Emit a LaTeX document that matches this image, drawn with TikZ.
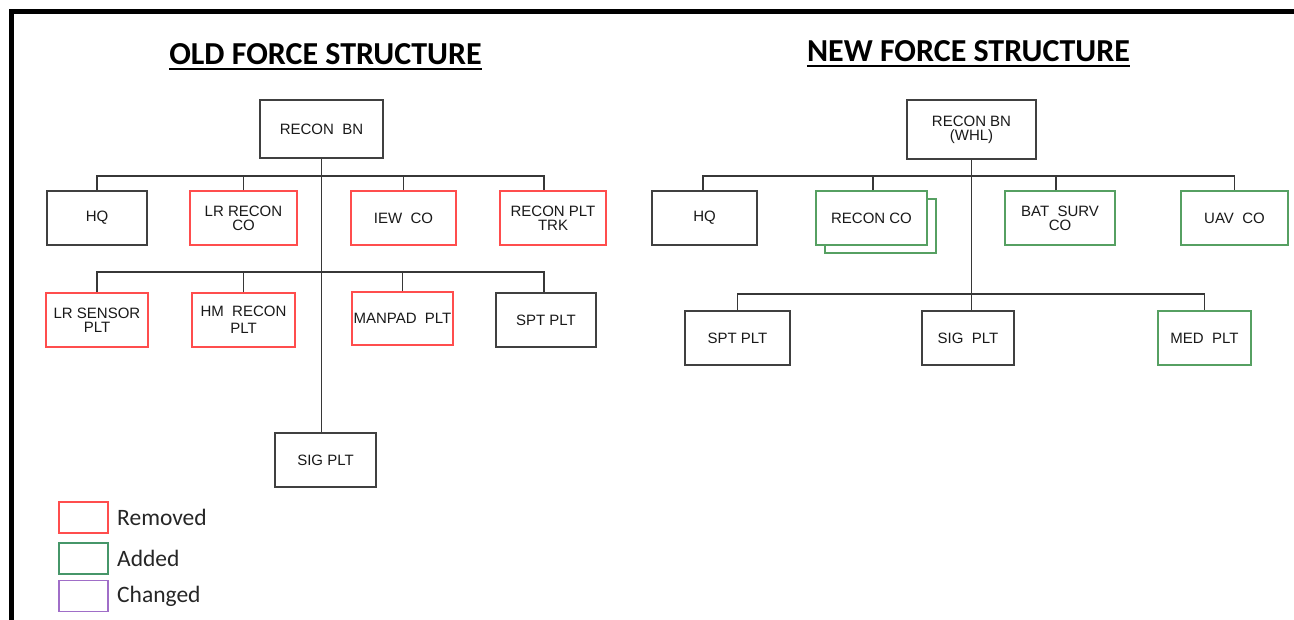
\documentclass[tikz,border=0pt]{standalone}
\usepackage{fontspec}
\setmainfont{Liberation Sans}
\newfontfamily\calibri{Carlito}
\usepackage{tikz}
\usetikzlibrary{positioning}
\definecolor{remred}{RGB}{255,77,77}
\definecolor{addgreen}{RGB}{86,160,98}
\definecolor{keygreen}{RGB}{70,150,105}
\definecolor{chgpurple}{RGB}{160,110,200}
\definecolor{boxgray}{RGB}{64,64,64}
\definecolor{linegray}{RGB}{55,55,55}

\begin{document}
\begin{tikzpicture}[x=1pt,y=-1pt,
	unit/.style={rectangle,draw=boxgray,line width=1.3pt,fill=white,align=center,inner sep=0pt,
		minimum height=54pt,font=\fontsize{15}{14}\selectfont,text=black!90},
	removed/.style={unit,draw=remred},
	added/.style={unit,draw=addgreen},
	conn/.style={draw=linegray,line width=1.2pt},
	heading/.style={font=\calibri\bfseries\fontsize{32}{32}\selectfont,inner sep=0pt,anchor=base},
	keybox/.style={rectangle,draw,line width=1.3pt,minimum width=49pt,minimum height=31pt,inner sep=0pt},
	keytext/.style={font=\calibri\fontsize{23.5}{23.5}\selectfont,anchor=west,inner sep=0pt,text=black!85}]
	\useasboundingbox (0,0) rectangle (1294,620);
	\draw [line width=5pt] (11,620) -- (11,12) -- (1294,12);

	% old structure
	\node[heading] (otitle) at (325.5,65) {OLD FORCE STRUCTURE};
	\draw[line width=2.2pt] ([yshift=-4pt]otitle.base west) -- ([yshift=-4pt]otitle.base east);
	\node[unit,minimum width=123pt,minimum height=58pt] (obn) at (321.5,129) {RECON~~BN};
	\node[unit,minimum width=100pt] (ohq) at (97,218) {HQ};
	\node[removed,minimum width=107pt] (olrr) at (243.5,218) {LR RECON\\CO};
	\node[removed,minimum width=105pt] (oiew) at (403.5,218) {IEW~~CO};
	\node[removed,minimum width=106pt] (orpt) at (553,218) {RECON PLT\\TRK};
	\node[removed,minimum width=102pt] (olrs) at (97,320) {LR SENSOR\\PLT};
	\node[removed,minimum width=103pt] (ohm) at (243.5,320) {HM~~RECON\\[3pt]PLT};
	\node[removed,minimum width=101pt,minimum height=53pt] (oman) at (402.5,318.5) {MANPAD~~PLT};
	\node[unit,minimum width=100pt] (ospt) at (546,320) {SPT PLT};
	\node[unit,minimum width=101pt] (osig) at (325.5,460) {SIG PLT};
	\coordinate (obus1) at (321,176);
	\coordinate (obus2) at (321,272);
	\draw[conn] (ohq.north) |- (obus1) -| ([xshift=-9pt]orpt.north);
	\draw[conn] (olrr.north) -- (olrr.north |- obus1);
	\draw[conn] (oiew.north) -- (oiew.north |- obus1);
	\draw[conn] (olrs.north) |- (obus2) -| ([xshift=-2pt]ospt.north);
	\draw[conn] (ohm.north) -- (ohm.north |- obus2);
	\draw[conn] (oman.north) -- (oman.north |- obus2);
	\draw[conn] (obn.south) -- (obn.south |- osig.north);

	% new structure
	\node[heading] (ntitle) at (968.5,62) {NEW FORCE STRUCTURE};
	\draw[line width=2.2pt] ([yshift=-4pt]ntitle.base west) -- ([yshift=-4pt]ntitle.base east);
	\node[unit,minimum width=129pt,minimum height=59pt] (nbn) at (971.5,129.5) {RECON BN\\(WHL)};
	\node[unit,minimum width=105pt] (nhq) at (704.5,218) {HQ};
	\node[added,minimum width=111pt] (nrcb) at (880.5,226) {};
	\node[added,minimum width=111pt] (nrc) at (871.5,218) {RECON CO};
	\node[added,minimum width=110pt] (nbat) at (1060,218) {BAT~~SURV\\CO};
	\node[added,minimum width=107pt] (nuav) at (1234.5,218) {UAV~~CO};
	\node[unit,minimum width=105pt] (nspt) at (737.5,338) {SPT PLT};
	\node[unit,minimum width=92pt] (nsig) at (968,338) {SIG~~PLT};
	\node[added,minimum width=93pt] (nmed) at (1204.5,338) {MED~~PLT};
	\coordinate (nbus1) at (971,176);
	\coordinate (nbus2) at (971,294);
	\draw[conn] ([xshift=-1.5pt]nhq.north) |- (nbus1) -| (nuav.north);
	\draw[conn] ([xshift=1.5pt]nrc.north) -- ([xshift=1.5pt]nrc.north |- nbus1);
	\draw[conn] ([xshift=-4pt]nbat.north) -- ([xshift=-4pt]nbat.north |- nbus1);
	\draw[conn] (nspt.north) |- (nbus2) -| (nmed.north);
	\draw[conn] (nbn.south) -- (nbn.south |- nsig.north);

	% key
	\node[keybox,draw=remred] (krem) at (83.5,517.5) {};
	\node[keybox,draw=keygreen] (kadd) at (83.5,558.5) {};
	\node[keybox,draw=chgpurple] (kchg) at (83.5,596) {};
	\node[keytext] (trem) at (117,517.5) {Removed};
	\node[keytext] (tadd) at (117,558.5) {Added};
	\node[keytext] (tchg) at (117,596) {Changed};
\end{tikzpicture}
\end{document}
